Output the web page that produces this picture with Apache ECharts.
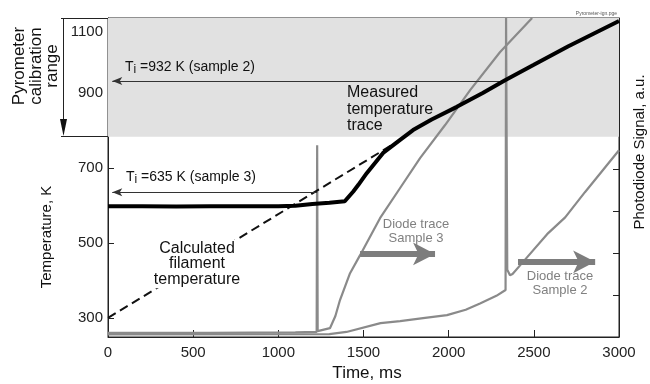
<!DOCTYPE html>
<html><head><meta charset="utf-8">
<script src="https://cdn.jsdelivr.net/npm/echarts@6/dist/echarts.min.js"></script>
<style>html,body{margin:0;padding:0;background:#fff}#c{width:650px;height:384px}</style>
</head><body><div id="c"></div>
<script>
const FONT = '"Liberation Sans", Arial, Helvetica, sans-serif';

// axes
const timeRange = [0, 3000];
const timeStep = 500;
const tempRange = [249, 1100];
const tempTickLabels = [300, 500, 700, 900, 1100];
const tempTicks = [300, 500, 700, 900];
const signalRange = [0, 7.6];
const signalTicks = [1, 2, 3, 4, 5, 6, 7];
const pyrometerRange = [783, 1100];

// measured temperature trace (ms, K)
const measuredTemp = [[0,598],[200,598],[400,597],[600,598],[800,598],[1000,598],[1100,599],[1200,604],[1300,607],[1390,611],[1440,637],[1470,655],[1519,686],[1615,740],[1715,775],[1791,801],[1900,829],[2048,863],[2200,900],[2331,934],[2500,975],[2700,1024],[2850,1058],[3000,1092]];
// calculated filament temperature (ms, K)
const calculatedTemp = [[0,300],[1720,776]];
// photodiode traces (ms, a.u.)
const diodeSample3 = [[0,0.1],[600,0.1],[1100,0.11],[1225,0.12],[1228,4.57],[1231,0.14],[1303,0.21],[1335,0.5],[1362,0.88],[1421,1.52],[1480,1.95],[1597,2.83],[1715,3.55],[1832,4.26],[1979,5.05],[2126,5.88],[2302,6.79],[2490,7.6]];
const diodeSample2 = [[0,0.06],[1300,0.07],[1400,0.12],[1600,0.33],[1715,0.38],[1850,0.45],[1990,0.52],[2100,0.65],[2184,0.8],[2280,0.98],[2334,1.12],[2337,7.6],[2344,1.6],[2360,1.47],[2375,1.5],[2437,1.79],[2578,2.45],[2684,2.85],[2800,3.45],[2900,3.95],[3000,4.45]];

// ignition markers
const ti2 = 932, ti2Time = 2337;
const ti3 = 635, ti3Time = 1228;
// thick arrows on diode traces: [startTime, endTime, signal]
const arrow3 = [1480, 1920, 1.98];
const arrow2 = [2407, 2860, 1.79];

const chart = echarts.init(document.getElementById('c'), null, {renderer: 'canvas'});

const txt = (x, y, text, extra, rot) => ({
  type: 'text', x, y, silent: true, z: 100, rotation: rot || 0,
  style: Object.assign({text, fontFamily: FONT, fontSize: 16, fill: '#111', align: 'left', verticalAlign: 'middle'}, extra || {})
});

chart.setOption({
  animation: false,
  backgroundColor: '#fff',
  textStyle: {fontFamily: FONT},
  grid: {left: 108, right: 31, top: 18, bottom: 47, show: true, borderColor: '#222', borderWidth: 1, backgroundColor: 'transparent'},
  xAxis: {
    type: 'value', min: timeRange[0], max: timeRange[1], interval: timeStep,
    axisLine: {show: true, lineStyle: {color: '#222', width: 1}},
    axisTick: {show: true, inside: true, length: 7, lineStyle: {color: '#222'}},
    axisLabel: {fontSize: 15, color: '#222', margin: 8, fontFamily: FONT, formatter: v => String(v)},
    splitLine: {show: false}
  },
  yAxis: [{
    type: 'value', position: 'left', min: tempRange[0], max: tempRange[1],
    axisLine: {show: true, lineStyle: {color: '#222', width: 1}},
    axisTick: {show: true, inside: true, length: 6, customValues: tempTicks, lineStyle: {color: '#222'}},
    axisLabel: {fontSize: 15, color: '#222', margin: 5, fontFamily: FONT, customValues: tempTickLabels,
      lineHeight: 27, verticalAlignMaxLabel: 'top', formatter: v => String(v)},
    splitLine: {show: false}
  }, {
    type: 'value', position: 'right', min: signalRange[0], max: signalRange[1],
    axisLine: {show: true, lineStyle: {color: '#222', width: 1}},
    axisTick: {show: true, inside: true, length: 6, customValues: signalTicks, lineStyle: {color: '#222'}},
    axisLabel: {show: false},
    splitLine: {show: false}
  }],
  series: [
    {
      name: 'band', type: 'line', data: [], z: 1, silent: true,
      markArea: {silent: true, itemStyle: {color: '#e1e1e1'},
        data: [[{yAxis: pyrometerRange[0]}, {yAxis: pyrometerRange[1]}]]}
    },
    {
      name: 'Diode trace Sample 2', type: 'line', yAxisIndex: 1, data: diodeSample2, z: 3,
      showSymbol: false, symbol: 'none', lineStyle: {color: '#8a8a8a', width: 2.2},
      markLine: {silent: true, symbol: ['none', 'arrow'], symbolSize: [17, 22], label: {show: false},
        lineStyle: {color: '#7d7d7d', width: 6, type: 'solid'},
        data: [[{coord: [arrow2[0], arrow2[2]]}, {coord: [arrow2[1], arrow2[2]]}]]}
    },
    {
      name: 'Diode trace Sample 3', type: 'line', yAxisIndex: 1, data: diodeSample3, z: 3,
      showSymbol: false, symbol: 'none', lineStyle: {color: '#8a8a8a', width: 2.2},
      markLine: {silent: true, symbol: ['none', 'arrow'], symbolSize: [17, 22], label: {show: false},
        lineStyle: {color: '#7d7d7d', width: 6, type: 'solid'},
        data: [[{coord: [arrow3[0], arrow3[2]]}, {coord: [arrow3[1], arrow3[2]]}]]}
    },
    {
      name: 'Calculated filament temperature', type: 'line', yAxisIndex: 0, data: calculatedTemp, z: 4,
      showSymbol: false, symbol: 'none', lineStyle: {color: '#111', width: 2, type: [9, 5]}
    },
    {
      name: 'Measured temperature trace', type: 'line', yAxisIndex: 0, data: measuredTemp, z: 5,
      showSymbol: false, symbol: 'none', lineStyle: {color: '#000', width: 4},
      markLine: {silent: true, symbol: ['none', 'arrow'], symbolSize: [6, 10], label: {show: false},
        lineStyle: {color: '#333', width: 1, type: 'solid'},
        data: [
          [{coord: [ti2Time, ti2]}, {coord: [25, ti2]}],
          [{coord: [ti3Time, ti3]}, {coord: [25, ti3]}]
        ]}
    }
  ],
  graphic: [
    // pyrometer bracket
    {type: 'line', silent: true, z: 100, shape: {x1: 61, y1: 18.5, x2: 108, y2: 18.5}, style: {stroke: '#222', lineWidth: 1}},
    {type: 'line', silent: true, z: 100, shape: {x1: 61, y1: 136.5, x2: 108, y2: 136.5}, style: {stroke: '#222', lineWidth: 1}},
    {type: 'line', silent: true, z: 100, shape: {x1: 63.5, y1: 18, x2: 63.5, y2: 122}, style: {stroke: '#222', lineWidth: 1}},
    {type: 'polygon', silent: true, z: 100, shape: {points: [[60, 119], [67, 119], [63.5, 136]]}, style: {fill: '#111'}},
    txt(36, 66, 'Pyrometer\ncalibration\nrange', {fontSize: 17, lineHeight: 16.5, align: 'center'}, Math.PI / 2),
    txt(47, 237, 'Temperature, K', {fontSize: 15, align: 'center'}, Math.PI / 2),
    txt(640, 152, 'Photodiode Signal, a.u.', {fontSize: 15, align: 'center'}, Math.PI / 2),
    txt(367, 373, 'Time, ms', {fontSize: 17, align: 'center'}),
    txt(125, 67, 'T{s|i} =932 K (sample 2)', {fontSize: 14, rich: {s: {fontSize: 12, padding: [6, 0, 0, 0], fontFamily: FONT}}}),
    txt(126, 177, 'T{s|i} =635 K (sample 3)', {fontSize: 14, rich: {s: {fontSize: 12, padding: [6, 0, 0, 0], fontFamily: FONT}}}),
    txt(347, 109.5, 'Measured\ntemperature\ntrace', {fontSize: 16, lineHeight: 16.5}),
    txt(197, 264, 'Calculated\nfilament\ntemperature', {fontSize: 16, lineHeight: 15.5, align: 'center', backgroundColor: '#fff', padding: [1, 2]}),
    txt(416, 231.5, 'Diode trace\nSample 3', {fontSize: 13, lineHeight: 13.5, align: 'center', fill: '#808080'}),
    txt(560, 283.5, 'Diode trace\nSample 2', {fontSize: 13, lineHeight: 13.5, align: 'center', fill: '#808080'}),
    txt(617, 14, 'Pyrometer-ign.pge', {fontSize: 5, align: 'right', fill: '#555'})
  ]
});
</script>
</body></html>
